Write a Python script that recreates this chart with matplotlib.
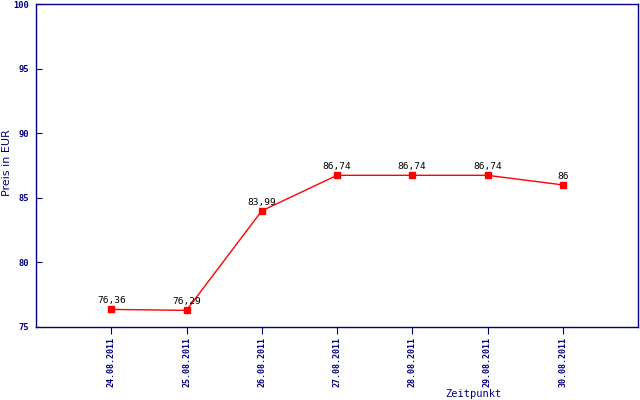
import matplotlib
matplotlib.use("Agg")
import matplotlib.pyplot as plt

dates = ["24.08.2011", "25.08.2011", "26.08.2011", "27.08.2011",
         "28.08.2011", "29.08.2011", "30.08.2011"]
prices = [76.36, 76.29, 83.99, 86.74, 86.74, 86.74, 86.00]
labels = ["76,36", "76,29", "83,99", "86,74", "86,74", "86,74", "86"]
yticks = [75, 80, 85, 90, 95, 100]

navy = "#000080"
font = "DejaVu Sans Mono"

fig = plt.figure(figsize=(6.4, 4.0), dpi=100)
ax = fig.add_axes([36/640, 73/400, 602/640, 323/400])
x = list(range(len(dates)))
ax.plot(x, prices, color="red", linewidth=1, marker="s", markersize=4.5,
        markerfacecolor="red", markeredgecolor="red")
for xi, yi, lab in zip(x, prices, labels):
    ax.annotate(lab, (xi, yi), xytext=(0, 3), textcoords="offset points",
                ha="center", va="bottom", fontsize=6.8, family=font, color="black")

ax.set_xlim(-1, 7)
ax.set_ylim(75, 100)
ax.set_xticks(x)
ax.set_xticklabels(dates, rotation=90, fontsize=6.0, family=font, color=navy,
                   fontweight="bold")
ax.set_yticks(yticks)
ax.set_yticklabels([str(v) for v in yticks], fontsize=6.3, family=font, color=navy,
                   fontweight="bold")
ax.tick_params(axis="x", direction="out", length=5, color=navy, pad=2)
ax.tick_params(axis="y", direction="in", length=4, color=navy, pad=5)
for s in ax.spines.values():
    s.set_color(navy)
    s.set_linewidth(1)
fig.text(7/640, 1 - 163/400, "Preis in EUR", fontsize=8, family="DejaVu Sans",
         color=navy, rotation=90, ha="center", va="center")
fig.text(473/640, 1 - 394/400, "Zeitpunkt", fontsize=7.5, family=font, color=navy,
         ha="center", va="center")
fig.savefig("out.png", dpi=100)
